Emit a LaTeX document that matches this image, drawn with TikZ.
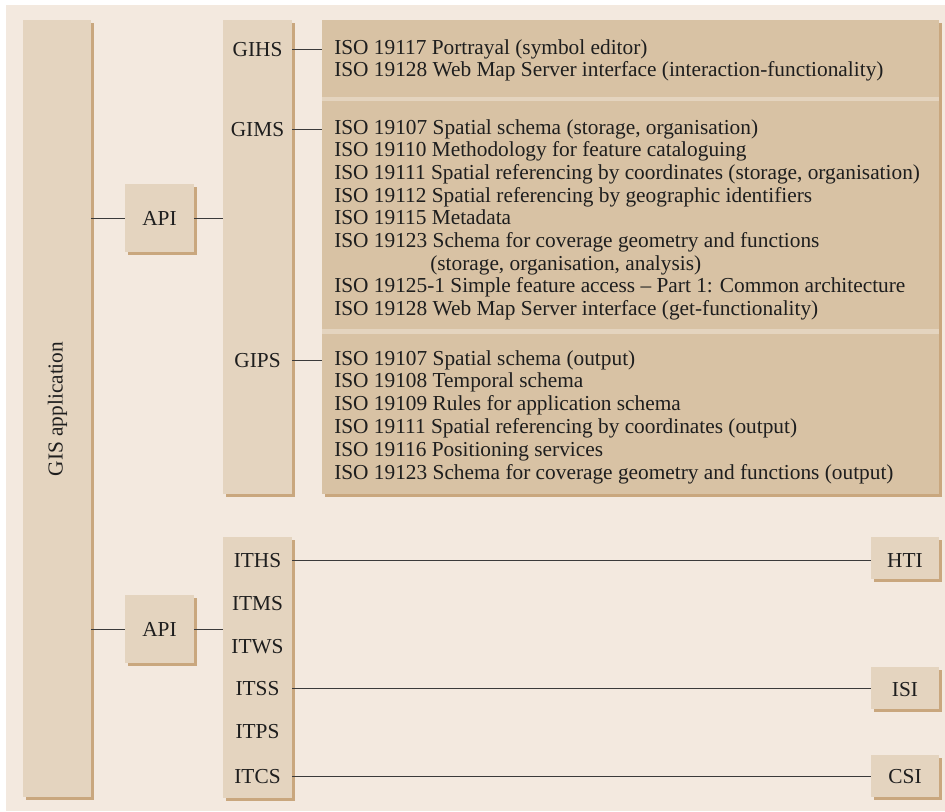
\documentclass[tikz,border=0pt]{standalone}
\usepackage{fontspec}
\setmainfont{Liberation Serif}
\usetikzlibrary{fit,shadows}
\definecolor{pagebg}{HTML}{F3E9DF}
\definecolor{colfill}{HTML}{E4D4BF}
\definecolor{isofill}{HTML}{D8C2A4}
\definecolor{shadowc}{HTML}{C9A77E}
\definecolor{inkc}{HTML}{1E1E1E}
\definecolor{linec}{HTML}{3A3A3A}
\begin{document}
\begin{tikzpicture}[x=0.75pt,y=-0.75pt,
  every node/.style={font=\fontsize{16}{17}\selectfont, text=inkc},
  panel/.style={fill=#1, draw=none, inner sep=0pt,
    general shadow={fill=shadowc, shadow xshift=2.25pt, shadow yshift=-2.25pt}},
  panel/.default=colfill,
  lbl/.style={anchor=base},
  isoline/.style={anchor=base west, inner sep=0pt},
  conn/.style={draw=linec, line width=0.75pt}]
\useasboundingbox (0,0) rectangle (945,811);
\fill[pagebg] (6,5) rectangle (945,811);

% columns and boxes
\node[panel, fit={(23,20) (91,797)}] (gis) {};
\node[panel, fit={(125,184) (194,252)}] (api1) {};
\node[panel, fit={(223,20) (292,494)}] (gcol) {};
\node[panel=isofill, fit={(322,20) (939,494)}] (iso) {};
\fill[colfill] (322,97) rectangle (939,101);
\fill[colfill] (322,329) rectangle (939,334);
\node[panel, fit={(125,595) (194,663)}] (api2) {};
\node[panel, fit={(223,537) (292,798)}] (icol) {};
\node[panel, fit={(871,537) (939,579)}] (hti) {};
\node[panel, fit={(871,667) (939,709)}] (isi) {};
\node[panel, fit={(871,755) (939,797)}] (csi) {};

% labels
\node[rotate=90, anchor=base] (gistxt) at (62.5,409) {GIS application};
\node[lbl] (apit1) at (159.5,225.7) {API};
\node[lbl] (apit2) at (159.5,636.5) {API};
\node[lbl] (gihs) at (257.5,56.5) {GIHS};
\node[lbl] (gims) at (257.5,136.5) {GIMS};
\node[lbl] (gips) at (257.5,367.5) {GIPS};
\node[lbl] (iths) at (257.5,567.5) {ITHS};
\node[lbl] (itms) at (257.5,610.5) {ITMS};
\node[lbl] (itws) at (257.5,653) {ITWS};
\node[lbl] (itss) at (257.5,695.7) {ITSS};
\node[lbl] (itps) at (257.5,738.3) {ITPS};
\node[lbl] (itcs) at (257.5,783) {ITCS};
\node[lbl] (htit) at (905,567.3) {HTI};
\node[lbl] (isit) at (905,696) {ISI};
\node[lbl] (csit) at (905,783.3) {CSI};

% standards lists
\foreach \dx/\t [count=\k from 0] in {
  0/{ISO 19117 Portrayal (symbol editor)},
  0/{ISO 19128 Web Map Server interface (interaction-functionality)}}
  \node[isoline] (hs-\k) at ({334+\dx}, {54.3+22.5*\k}) {\t};
\foreach \dx/\t [count=\k from 0] in {
  0/{ISO 19107 Spatial schema (storage, organisation)},
  0/{ISO 19110 Methodology for feature cataloguing},
  0/{ISO 19111 Spatial referencing by coordinates (storage, organisation)},
  0/{ISO 19112 Spatial referencing by geographic identifiers},
  0/{ISO 19115 Metadata},
  0/{ISO 19123 Schema for coverage geometry and functions},
  96/{(storage, organisation, analysis)},
  0/{ISO 19125-1 Simple feature access \textendash\ Part 1: Common architecture},
  0/{ISO 19128 Web Map Server interface (get-functionality)}}
  \node[isoline] (ms-\k) at ({334+\dx}, {134+22.7*\k}) {\t};
\foreach \dx/\t [count=\k from 0] in {
  0/{ISO 19107 Spatial schema (output)},
  0/{ISO 19108 Temporal schema},
  0/{ISO 19109 Rules for application schema},
  0/{ISO 19111 Spatial referencing by coordinates (output)},
  0/{ISO 19116 Positioning services},
  0/{ISO 19123 Schema for coverage geometry and functions (output)}}
  \node[isoline] (ps-\k) at ({334+\dx}, {365+22.8*\k}) {\t};

% connectors
\draw[conn] (gis.east |- api1.center) -- (api1.west);
\draw[conn] (api1.east) -- (api1.east -| gcol.west);
\draw[conn] (gis.east |- api2.center) -- (api2.west);
\draw[conn] (api2.east) -- (api2.east -| icol.west);
\draw[conn] (gihs.center -| gcol.east) -- (gihs.center -| iso.west);
\draw[conn] (gims.center -| gcol.east) -- (gims.center -| iso.west);
\draw[conn] (gips.center -| gcol.east) -- (gips.center -| iso.west);
\draw[conn] (iths.center -| icol.east) -- (iths.center -| hti.west);
\draw[conn] (itss.center -| icol.east) -- (itss.center -| isi.west);
\draw[conn] (itcs.center -| icol.east) -- (itcs.center -| csi.west);
\end{tikzpicture}
\end{document}
